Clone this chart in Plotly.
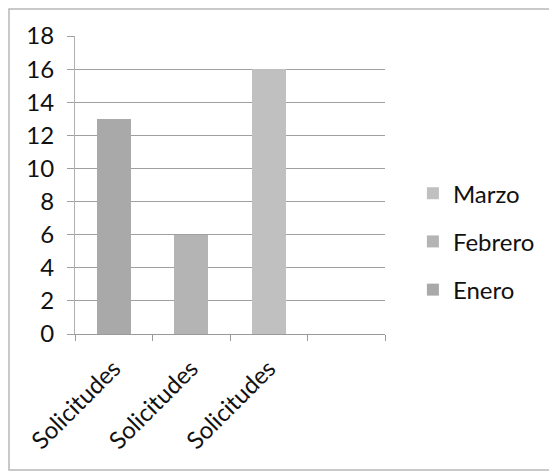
import plotly.graph_objects as go

categories = ["Solicitudes", "Solicitudes", "Solicitudes", ""]
series_names = ["Marzo", "Febrero", "Enero"]
marzo = [None, None, 16, None]
febrero = [None, 6, None, None]
enero = [13, None, None, None]
y_ticks = [0, 2, 4, 6, 8, 10, 12, 14, 16, 18]

colors = {"Enero": "#a9a9a9", "Febrero": "#b4b4b4", "Marzo": "#c0c0c0"}
xpos = list(range(len(categories)))

fig = go.Figure()
for name, vals in zip(series_names, [marzo, febrero, enero]):
    fig.add_trace(go.Bar(x=xpos, y=vals, name=name, marker_color=colors[name],
                         marker_line_width=0, legendgroup=name))

L, T = 67, 28
W, H = 310, 298
font_family = "Lato, 'Open Sans', sans-serif"
fig.update_layout(
    width=557, height=473,
    barmode="stack", bargap=0.56,
    paper_bgcolor="white", plot_bgcolor="white",
    margin=dict(l=L, r=557 - L - W, t=T, b=473 - T - H, autoexpand=False),
    font=dict(family=font_family, size=24, color="#111111"),
    legend=dict(x=1.09, y=0.31, xanchor="left", yanchor="middle",
                traceorder="grouped", tracegroupgap=14,
                font=dict(size=24), itemwidth=30),
    showlegend=True,
    xaxis=dict(range=[-0.5, 3.5], tickmode="array", tickvals=xpos[:3],
               ticktext=categories[:3], tickangle=-45, ticks="", automargin=False,
               showgrid=False, showline=True, linecolor="#9a9a9a",
               ticklabelstandoff=10,
               minor=dict(tickmode="array", tickvals=[-0.5, 0.5, 1.5, 2.5, 3.5],
                          ticks="outside", ticklen=6, tickcolor="#9a9a9a", showgrid=False)),
    yaxis=dict(range=[0, 18], tickmode="array", tickvals=y_ticks, automargin=False,
               showgrid=True, gridcolor="#a0a0a0", gridwidth=1,
               showline=True, linecolor="#b0b0b0", ticks="outside",
               ticklen=7, tickcolor="#a0a0a0", zeroline=False,
               ticklabelstandoff=8),
)
fig.add_shape(type="rect", xref="paper", yref="paper",
              x0=(1 - L) / W, x1=(600 - L) / W, y0=-(462 - T - H) / H, y1=(T + H - 1) / H,
              line=dict(color="#b8b8b8", width=1.5), layer="below")
fig.write_html("out.html")
